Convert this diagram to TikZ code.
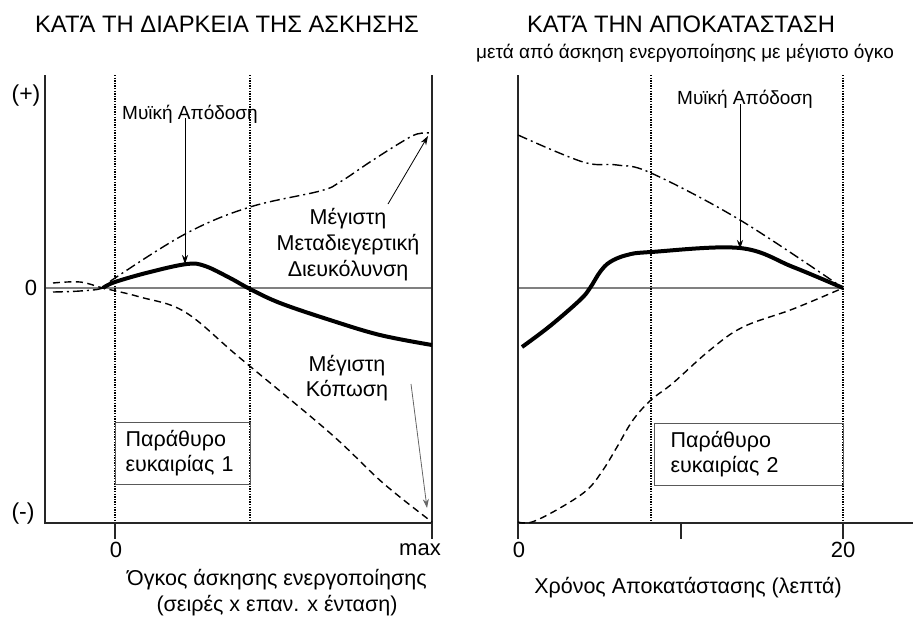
\documentclass[tikz,border=0pt]{standalone}
\usepackage{fontspec}
\setmainfont{Liberation Sans}
\usetikzlibrary{arrows.meta}

\begin{document}
\begin{tikzpicture}[
	  x=1pt, y=-1pt,
	  axis/.style={line width=1.2pt, black!85},
	  zline/.style={line width=1.1pt, gray},
	  window/.style={line width=1.3pt, dash pattern=on 1.3pt off 1.3pt},
	  perf/.style={line width=4pt, line join=round},
	  fatg/.style={line width=1.4pt, dash pattern=on 7pt off 4.5pt},
	  ppot/.style={line width=1.4pt, dash pattern=on 10pt off 4pt on 2pt off 4pt},
	  ptr/.style={-{Stealth[length=9pt,width=6pt]}, line width=0.8pt},
	  lbl/.style={font=\fontsize{21.5}{26}\selectfont, align=center, inner sep=0pt},
	  tick/.style={font=\fontsize{22}{24}\selectfont},
	  wbox/.style={draw=gray!70!black, line width=1.2pt, anchor=north west,
	    inner sep=0pt, inner xsep=10pt, align=left, font=\fontsize{21.5}{25}\selectfont},
	]
	\useasboundingbox (0,0) rectangle (913,619);

	\node [font=\fontsize{23.8}{28}\selectfont] (ttlL) at (227,24) {ΚΑΤΆ ΤΗ ΔΙΑΡΚΕΙΑ ΤΗΣ ΑΣΚΗΣΗΣ};
	\node [font=\fontsize{23.8}{28}\selectfont] (ttlR) at (681,24) {ΚΑΤΆ ΤΗΝ ΑΠΟΚΑΤΑΣΤΑΣΗ};
	\node [font=\fontsize{19}{22}\selectfont] (subR) at (685,53) {μετά από άσκηση ενεργοποίησης με μέγιστο όγκο};

	\draw [zline] (45,288) -- (432,288);
	\draw [window] (115,75) -- (115,523);
	\draw [window] (250,75) -- (250,523);
	\draw [axis] (45,75) -- (45,523) -- (432,523);
	\draw [axis] (432,75) -- (432,539);
	\draw [axis] (115,523) -- (115,539);

	\node [wbox, minimum width=135pt, minimum height=62pt, text width=115pt] (winL) at (115,422) {Παράθυρο\\ευκαιρίας 1};

	\draw [fatg] plot [smooth, tension=0.6] coordinates {(53,283) (80,282) (103,288) (140,297) (185,312) (240,358) (330,433) (383,483) (432,522)};
	\draw [ppot] plot [smooth, tension=0.6] coordinates {(53,292) (80,291) (103,288) (115,278) (187,233) (250,207) (320,191) (340,182) (370,162) (400,143) (417,134) (432,133)};
	\draw [perf] plot [smooth, tension=0.6] coordinates {(103,288) (115,282) (150,272) (187,264) (205,266) (230,278) (250,289) (280,303) (330,320) (380,335) (432,345)};

	\node [font=\fontsize{23}{26}\selectfont] (plusL) at (26,96) {(+)};
	\node [tick] (zeroL) at (31,288) {0};
	\node [font=\fontsize{23}{26}\selectfont] (minusL) at (23,514) {(-)};
	\node [tick] (xzeroL) at (116,550) {0};
	\node [tick] (xmaxL) at (420,550) {max};
	\node [lbl] (xttlL) at (277,593) {Όγκος άσκησης ενεργοποίησης\\(σειρές x επαν. x ένταση)};

	\node [lbl, font=\fontsize{19}{22}\selectfont] (perfL) at (190,114) {Μυϊκή Απόδοση};
	\coordinate (peakL) at (185,264);
	\draw [ptr] (perfL.south -| peakL) ++(0,-5) -- (peakL);

	\node [lbl] (ppotL) at (348,245) {Μέγιστη\\Μεταδιεγερτική\\Διευκόλυνση};
	\coordinate (ppotS) at (388,204);
	\coordinate (ppotE) at (428,136);
	\draw [ptr] (ppotS) -- (ppotE);

	\node [lbl, font=\fontsize{21.5}{25}\selectfont] (fatgL) at (347,378) {Μέγιστη\\Κόπωση};
	\coordinate (fatgS) at (411,384);
	\coordinate (fatgE) at (427,508);
	\draw [ptr, gray!80!black] (fatgS) -- (fatgE);

	\draw [zline] (518,288) -- (843,288);
	\draw [window] (651,75) -- (651,523);
	\draw [window] (843,75) -- (843,523);
	\draw [axis] (518,75) -- (518,539);
	\draw [axis] (518,523) -- (913,523);
	\draw [axis] (681,523) -- (681,539);
	\draw [axis] (843,523) -- (843,539);

	\node [wbox, minimum width=189pt, minimum height=62pt, text width=157pt, inner xsep=16pt] (winR) at (654,423) {Παράθυρο\\ευκαιρίας 2};

	\draw [fatg] plot [smooth, tension=0.6] coordinates {(518,522) (532,522) (560,508) (587,490) (603,470) (617,447) (633,420) (651,400) (673,383) (710,350) (743,327) (793,309) (843,288)};
	\draw [ppot] plot [smooth, tension=0.6] coordinates {(518,135) (583,162) (617,165) (651,173) (740,220) (843,288)};
	\draw [perf] plot [smooth, tension=0.6] coordinates {(522,347) (550,326) (580,300) (590,288) (600,272) (610,262) (627,255) (651,252) (740,248) (793,267) (843,288)};

	\node [tick] (xzeroR) at (519,550) {0};
	\node [tick] (xtwR) at (843,550) {20};
	\node [lbl] (xttlR) at (688,588) {Χρόνος Αποκατάστασης (λεπτά)};

	\node [lbl, font=\fontsize{19}{22}\selectfont] (perfR) at (745,99) {Μυϊκή Απόδοση};
	\coordinate (peakR) at (740,249);
	\draw [ptr] (perfR.south -| peakR) ++(0,-4) -- (peakR);
\end{tikzpicture}
\end{document}
